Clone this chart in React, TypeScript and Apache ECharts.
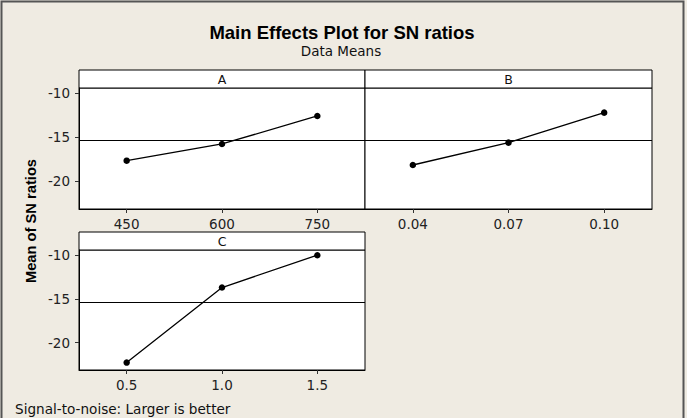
import React, { useEffect, useRef } from "react";
import * as echarts from "echarts";

const levelsA = ["450", "600", "750"];
const levelsB = ["0.04", "0.07", "0.10"];
const levelsC = ["0.5", "1.0", "1.5"];
const snA = [-17.66, -15.76, -12.58];
const snB = [-18.15, -15.61, -12.2];
const snC = [-22.3, -13.7, -10.0];
const yTicks = [-20, -15, -10];
const panelNames = ["A", "B", "C"];

const FONT = "DejaVu Sans";

export default function App() {
  const ref = useRef<HTMLDivElement>(null);
  useEffect(() => {
    if (!ref.current) return;
    const chart = echarts.init(ref.current, null, { renderer: "svg" });
    const mean = snA.reduce((s, v) => s + v, 0) / snA.length;
    const grids = [
      { left: 79, top: 88, width: 286, height: 121 },
      { left: 365, top: 88, width: 287, height: 121 },
      { left: 79, top: 250, width: 286, height: 120 },
    ];
    const cats = [levelsA, levelsB, levelsC];
    const vals = [snA, snB, snC];
    const option: any = {
      animation: false,
      backgroundColor: "#EFEBE2",
      grid: grids.map((g) => ({
        ...g,
        show: true,
        backgroundColor: "#ffffff",
        borderColor: "#000",
        borderWidth: 1,
      })),
      xAxis: cats.map((c, i) => ({
        type: "category",
        gridIndex: i,
        data: c,
        boundaryGap: true,
        axisLine: { show: true, lineStyle: { color: "#000", width: 1 } },
        axisTick: { show: true, alignWithLabel: true, length: 4, lineStyle: { color: "#333" } },
        axisLabel: { fontFamily: FONT, fontSize: 13.5, color: "#222", margin: 8 },
        splitLine: { show: false },
      })),
      yAxis: cats.map((_, i) => ({
        type: "value",
        gridIndex: i,
        min: -23.15,
        max: -9.4,
        axisLine: { show: i !== 1, lineStyle: { color: "#000", width: 1 } },
        axisTick: {
          show: i !== 1,
          length: 4,
          customValues: yTicks,
          lineStyle: { color: "#333" },
        },
        axisLabel: {
          show: i !== 1,
          customValues: yTicks,
          fontFamily: FONT,
          fontSize: 13.5,
          color: "#222",
          margin: 9,
        },
        splitLine: { show: false },
      })),
      series: vals.map((v, i) => ({
        type: "line",
        xAxisIndex: i,
        yAxisIndex: i,
        data: v,
        symbol: "circle",
        symbolSize: 6.5,
        itemStyle: { color: "#000" },
        lineStyle: { color: "#000", width: 1.3 },
        markLine: {
          silent: true,
          symbol: ["none", "none"],
          label: { show: false },
          lineStyle: { color: "#000", type: "solid", width: 1 },
          data: [{ yAxis: mean }],
        },
      })),
      graphic: [
        {
          type: "rect",
          shape: { x: 1.5, y: 1.5, width: 682, height: 430 },
          style: { fill: "none", stroke: "#555", lineWidth: 2 },
          silent: true,
        },
        ...grids.map((g) => ({
          type: "rect",
          shape: { x: g.left, y: g.top - 18, width: g.width, height: 18 },
          style: { fill: "#fff", stroke: "#000", lineWidth: 1 },
          silent: true,
        })),
        ...grids.map((g, i) => ({
          type: "text",
          x: g.left + g.width / 2,
          y: g.top - 9,
          style: {
            text: panelNames[i],
            fontFamily: FONT,
            fontSize: 12.5,
            fill: "#111",
            align: "center",
            verticalAlign: "middle",
          },
        })),
        {
          type: "text",
          x: 342,
          y: 32,
          style: {
            text: "Main Effects Plot for SN ratios",
            fontFamily: "Liberation Sans",
            fontWeight: "bold",
            fontSize: 18.5,
            fill: "#000",
            align: "center",
            verticalAlign: "middle",
          },
        },
        {
          type: "text",
          x: 341,
          y: 51,
          style: {
            text: "Data Means",
            fontFamily: FONT,
            fontSize: 13.5,
            fill: "#111",
            align: "center",
            verticalAlign: "middle",
          },
        },
        {
          type: "text",
          x: 31,
          y: 221,
          rotation: Math.PI / 2,
          style: {
            text: "Mean of SN ratios",
            fontFamily: "Liberation Sans",
            fontWeight: "bold",
            fontSize: 14.7,
            fill: "#000",
            align: "center",
            verticalAlign: "middle",
          },
        },
        {
          type: "text",
          x: 15,
          y: 409,
          style: {
            text: "Signal-to-noise: Larger is better",
            fontFamily: FONT,
            fontSize: 13.6,
            fill: "#111",
            align: "left",
            verticalAlign: "middle",
          },
        },
      ],
    };
    chart.setOption(option);
    return () => chart.dispose();
  }, []);
  return (
    <div
      ref={ref}
      style={{ position: "fixed", left: 0, top: 0, width: 687, height: 418 }}
    />
  );
}
